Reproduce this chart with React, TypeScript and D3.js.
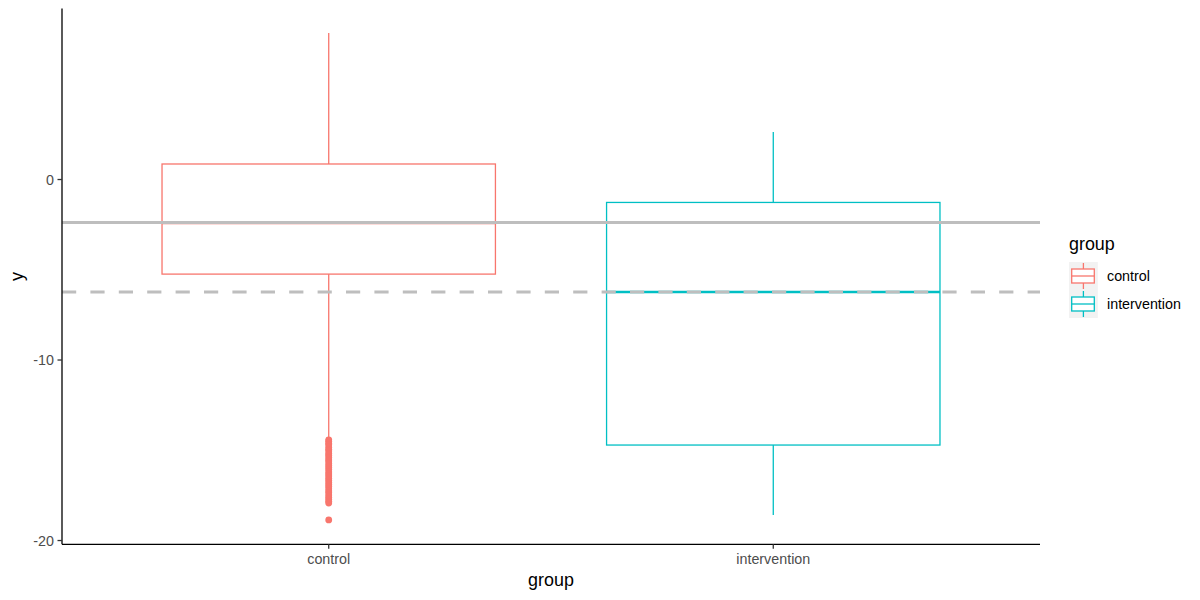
import React from "react";
import * as d3 from "d3";

const categories = ["control", "intervention"];
const colors = ["#F8766D", "#00BFC4"];
const q1 = [-5.24, -14.71];
const medians = [-2.4, -6.23];
const q3 = [0.86, -1.27];
const whiskerLow = [-14.3, -18.59];
const whiskerHigh = [8.12, 2.63];
const controlOutliers = [
  -14.42, -14.5, -14.61, -14.7, -14.83, -14.95, -15.04, -15.18, -15.27, -15.4,
  -15.52, -15.6, -15.73, -15.85, -15.96, -16.07, -16.2, -16.31, -16.42, -16.55,
  -16.66, -16.78, -16.9, -17.01, -17.13, -17.25, -17.36, -17.48, -17.6, -17.71,
  -17.83, -17.92, -18.86,
];
const outliers = [controlOutliers, [] as number[]];
const hlineSolid = -2.38;
const hlineDashed = -6.23;
const yTicks = [-20, -10, 0];

const W = 1200;
const H = 600;
const left = 62;
const right = 1040;
const top = 8.6;
const bottom = 544.3;
const font = "'Liberation Sans', Arial, Helvetica, sans-serif";
const lw = 1.3;
const tickFs = 14.3;
const titleFs = 17.9;

export default function App() {
  const allVals = [...whiskerLow, ...whiskerHigh, ...controlOutliers];
  const lo = d3.min(allVals)!;
  const hi = d3.max(allVals)!;
  const pad = (hi - lo) * 0.05;
  const y = d3.scaleLinear().domain([lo - pad, hi + pad]).range([bottom, top]);
  const unit = (right - left) / 2.2;
  const x = (i: number) => left + (0.6 + i) * unit;
  const bw = 0.75 * unit;

  return (
    <svg
      width={W}
      height={H}
      style={{ position: "fixed", left: 0, top: 0, background: "#fff" }}
      fontFamily={font}
    >
      <rect x={0} y={0} width={W} height={H} fill="#fff" />
      {categories.map((c, i) => {
        const cx = x(i);
        const col = colors[i];
        return (
          <g key={c}>
            <line x1={cx} x2={cx} y1={y(whiskerHigh[i])} y2={y(q3[i])} stroke={col} strokeWidth={lw} />
            <line x1={cx} x2={cx} y1={y(q1[i])} y2={y(whiskerLow[i])} stroke={col} strokeWidth={lw} />
            <rect
              x={cx - bw / 2}
              y={y(q3[i])}
              width={bw}
              height={y(q1[i]) - y(q3[i])}
              fill="#fff"
              stroke={col}
              strokeWidth={lw}
            />
            <line x1={cx - bw / 2} x2={cx + bw / 2} y1={y(medians[i])} y2={y(medians[i])} stroke={col} strokeWidth={lw * 2} />
            {outliers[i].map((v, k) => (
              <circle key={k} cx={cx} cy={y(v)} r={3.4} fill={col} />
            ))}
          </g>
        );
      })}
      <line x1={left} x2={right} y1={y(hlineSolid)} y2={y(hlineSolid)} stroke="#BEBEBE" strokeWidth={3} />
      <line
        x1={left}
        x2={right}
        y1={y(hlineDashed)}
        y2={y(hlineDashed)}
        stroke="#BEBEBE"
        strokeWidth={3}
        strokeDasharray="14.2,14.2"
      />
      {/* axes */}
      <line x1={left} x2={left} y1={top} y2={bottom} stroke="#000" strokeWidth={lw} />
      <line x1={left} x2={right} y1={bottom} y2={bottom} stroke="#000" strokeWidth={lw} />
      {yTicks.map((t) => (
        <g key={t}>
          <line x1={left - 4.5} x2={left} y1={y(t)} y2={y(t)} stroke="#333" strokeWidth={lw} />
          <text x={left - 8} y={y(t)} dy="0.36em" textAnchor="end" fontSize={tickFs} fill="#4D4D4D">
            {t}
          </text>
        </g>
      ))}
      {categories.map((c, i) => (
        <g key={c}>
          <line x1={x(i)} x2={x(i)} y1={bottom} y2={bottom + 4.5} stroke="#333" strokeWidth={lw} />
          <text x={x(i)} y={bottom + 19.5} textAnchor="middle" fontSize={tickFs} fill="#4D4D4D">
            {c}
          </text>
        </g>
      ))}
      <text x={(left + right) / 2} y={586} textAnchor="middle" fontSize={titleFs} fill="#000">
        group
      </text>
      <text
        transform={`translate(${23},${(top + bottom) / 2}) rotate(-90)`}
        textAnchor="middle"
        fontSize={titleFs}
        fill="#000"
      >
        y
      </text>
      {/* legend */}
      <text x={1069} y={250} fontSize={titleFs} fill="#000">
        group
      </text>
      {categories.map((c, i) => {
        const ky = 262 + i * 28;
        const kx = 1069;
        const cx = kx + 14.4;
        const col = colors[i];
        return (
          <g key={c}>
            <rect x={kx} y={ky} width={28.8} height={28} fill="#F2F2F2" />
            <line x1={cx} x2={cx} y1={ky + 1} y2={ky + 7} stroke={col} strokeWidth={lw} />
            <line x1={cx} x2={cx} y1={ky + 21} y2={ky + 27} stroke={col} strokeWidth={lw} />
            <rect x={kx + 2.7} y={ky + 7} width={22.6} height={14} fill="#fff" stroke={col} strokeWidth={lw} />
            <line x1={kx + 2.7} x2={kx + 25.3} y1={ky + 14} y2={ky + 14} stroke={col} strokeWidth={lw} />
            <text x={1107} y={ky + 14} dy="0.36em" fontSize={tickFs} fill="#000">
              {c}
            </text>
          </g>
        );
      })}
    </svg>
  );
}
